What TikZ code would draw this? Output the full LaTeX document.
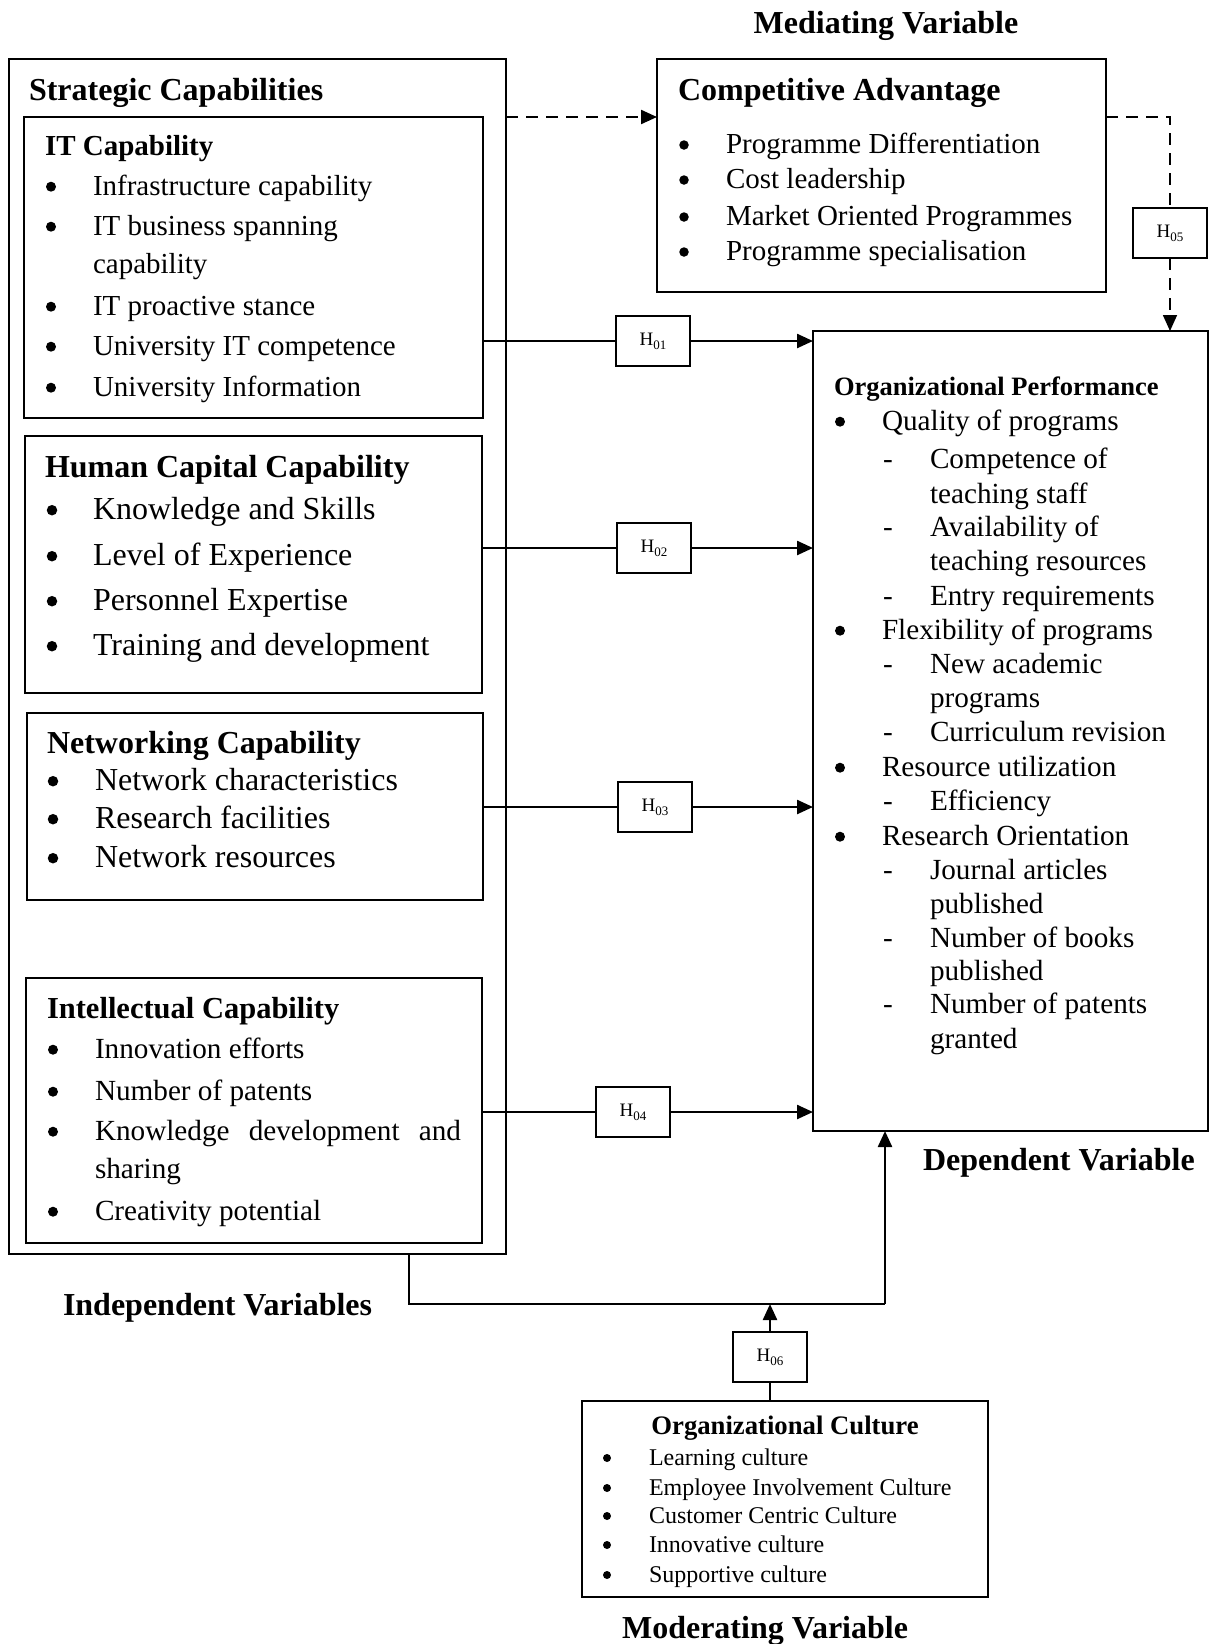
\documentclass[tikz,border=0pt]{standalone}
\usepackage{fontspec}
\setmainfont{Liberation Serif}
\usetikzlibrary{arrows.meta}
\def\bsz{10pt}\def\boff{8.3}
\newcommand{\bitm}[5]{\node[bdot, minimum size=\bsz] (#1b) at (#2,#4-\boff) {};\node[txt] (#1) at (#3,#4) {#5};}
\newcommand{\ditm}[5]{\node[bul] (#1b) at (#2,#4) {-};\node[txt] (#1) at (#3,#4) {#5};}
\newcommand{\hlab}[1]{H\raisebox{-4pt}{\fontsize{13}{13}\selectfont #1}}
\begin{document}
\begin{tikzpicture}[x=1pt,y=-1pt,
  box/.style={draw, line width=1.6pt, inner sep=0pt, outer sep=0pt, anchor=north west},
  hbox/.style={draw, line width=1.8pt, minimum width=74pt, minimum height=50pt, inner sep=0pt, outer sep=0pt, font=\fontsize{19}{22}\selectfont},
  txt/.style={inner sep=0pt, outer sep=0pt, anchor=base west},
  bul/.style={inner sep=0pt, outer sep=0pt, anchor=base},
  bdot/.style={circle, fill, draw=none, inner sep=0pt, outer sep=0pt},
  conn/.style={line width=2.4pt},
  arr/.style={line width=2.4pt, -{Triangle[length=16pt,width=14pt]}},
  dashln/.style={line width=2.2pt, dash pattern=on 12pt off 8pt},
  dashthin/.style={line width=1.6pt, dash pattern=on 12pt off 8pt},
  ttl/.style={inner sep=0pt, outer sep=0pt, font=\fontsize{32}{38}\selectfont\bfseries}
]
\useasboundingbox (0,0) rectangle (1211,1644);

% ---------- boxes ----------
\node[box, line width=2pt, minimum width=497pt, minimum height=1195pt] (sc) at (9,59) {};
\node[box, minimum width=459pt, minimum height=301pt] (it) at (24,117) {};
\node[box, minimum width=457pt, minimum height=257pt] (hc) at (25,436) {};
\node[box, minimum width=456pt, minimum height=187pt] (nc) at (27,713) {};
\node[box, minimum width=456pt, minimum height=265pt] (ic) at (26,978) {};
\node[box, minimum width=449pt, minimum height=233pt] (ca) at (657,59) {};
\node[box, minimum width=395pt, minimum height=800pt] (op) at (813,331) {};
\node[box, minimum width=406pt, minimum height=196pt] (oc) at (582,1401) {};

% ---------- hypothesis boxes ----------
\node[hbox] (h1) at (653,341) {\hlab{01}};
\node[hbox] (h2) at (654,548) {\hlab{02}};
\node[hbox] (h3) at (655,807) {\hlab{03}};
\node[hbox] (h4) at (633,1112) {\hlab{04}};
\node[hbox] (h5) at (1170,233) {\hlab{05}};
\node[hbox] (h6) at (770,1357) {\hlab{06}};

% ---------- captions ----------
\node[ttl, anchor=base] (medv) at (886,33) {Mediating Variable};
\node[ttl, anchor=base west] (scT) at (29,100) {Strategic Capabilities};
\node[ttl, anchor=base west] (indv) at (63,1315) {Independent Variables};
\node[ttl, anchor=base west] (depv) at (923,1170) {Dependent Variable};
\node[ttl, anchor=base] (modv) at (765,1638) {Moderating Variable};

% ---------- IT capability ----------
\begin{scope}[font=\fontsize{29}{35}\selectfont]
\def\bsz{10pt}\def\boff{8.3}
\node[txt, font=\fontsize{29}{35}\selectfont\bfseries] (itT) at (45,155) {IT Capability};
\bitm{it1}{51}{93}{195}{Infrastructure capability}
\bitm{it2}{51}{93}{235}{IT business spanning}
\node[txt] (it2c) at (93,273) {capability};
\bitm{it3}{51}{93}{315}{IT proactive stance}
\bitm{it4}{51}{93}{355}{University IT competence}
\bitm{it5}{51}{93}{396}{University Information}
\end{scope}

% ---------- Human capital ----------
\begin{scope}[font=\fontsize{32}{38}\selectfont]
\def\bsz{10.5pt}\def\boff{8.8}
\node[txt, font=\fontsize{32}{38}\selectfont\bfseries] (hcT) at (45,477) {Human Capital Capability};
\bitm{hc1}{52}{93}{519}{Knowledge and Skills}
\bitm{hc2}{52}{93}{565}{Level of Experience}
\bitm{hc3}{52}{93}{610}{Personnel Expertise}
\bitm{hc4}{52}{93}{655}{Training and development}
\end{scope}

% ---------- Networking ----------
\begin{scope}[font=\fontsize{32}{38}\selectfont]
\def\bsz{10.5pt}\def\boff{8.8}
\node[txt, font=\fontsize{32}{38}\selectfont\bfseries] (ncT) at (47,753) {Networking Capability};
\bitm{nc1}{53}{95}{790}{Network characteristics}
\bitm{nc2}{53}{95}{828}{Research facilities}
\bitm{nc3}{53}{95}{867}{Network resources}
\end{scope}

% ---------- Intellectual ----------
\begin{scope}[font=\fontsize{29.2}{35}\selectfont]
\def\bsz{10pt}\def\boff{8.3}
\node[txt, font=\fontsize{30.5}{36}\selectfont\bfseries] (icT) at (47,1018) {Intellectual Capability};
\bitm{ic1}{53}{95}{1058}{Innovation efforts}
\bitm{ic2}{53}{95}{1100}{Number of patents}
\bitm{ic3}{53}{95}{1140}{\makebox[366pt][s]{Knowledge development and}}
\node[txt] (ic3c) at (95,1178) {sharing};
\bitm{ic4}{53}{95}{1220}{Creativity potential}
\end{scope}

% ---------- Competitive advantage ----------
\begin{scope}[font=\fontsize{29}{35}\selectfont]
\def\bsz{9.5pt}\def\boff{8}
\node[ttl, anchor=base west] (caT) at (678,100) {Competitive Advantage};
\bitm{ca1}{684}{726}{153}{Programme Differentiation}
\bitm{ca2}{684}{726}{188}{Cost leadership}
\bitm{ca3}{684}{726}{225}{Market Oriented Programmes}
\bitm{ca4}{684}{726}{260}{Programme specialisation}
\end{scope}

% ---------- Organizational performance ----------
\begin{scope}[font=\fontsize{29.2}{35}\selectfont]
\def\bsz{10pt}\def\boff{8.3}
\node[txt, font=\fontsize{26.5}{32}\selectfont\bfseries] (opT) at (834,395) {Organizational Performance};
\bitm{op1}{840}{882}{430}{Quality of programs}
\ditm{op2}{888}{930}{468}{Competence of}
\node[txt] (op2c) at (930,503) {teaching staff};
\ditm{op3}{888}{930}{536}{Availability of}
\node[txt] (op3c) at (930,570) {teaching resources};
\ditm{op4}{888}{930}{605}{Entry requirements}
\bitm{op5}{840}{882}{639}{Flexibility of programs}
\ditm{op6}{888}{930}{673}{New academic}
\node[txt] (op6c) at (930,707) {programs};
\ditm{op7}{888}{930}{741}{Curriculum revision}
\bitm{op8}{840}{882}{776}{Resource utilization}
\ditm{op9}{888}{930}{810}{Efficiency}
\bitm{op10}{840}{882}{845}{Research Orientation}
\ditm{op11}{888}{930}{879}{Journal articles}
\node[txt] (op11c) at (930,913) {published};
\ditm{op12}{888}{930}{947}{Number of books}
\node[txt] (op12c) at (930,980) {published};
\ditm{op13}{888}{930}{1013}{Number of patents}
\node[txt] (op13c) at (930,1048) {granted};
\end{scope}

% ---------- Organizational culture ----------
\begin{scope}[font=\fontsize{24}{29}\selectfont]
\def\bsz{8pt}\def\boff{7}
\node[inner sep=0pt, anchor=base, font=\fontsize{26.7}{32}\selectfont\bfseries] (ocT) at (785,1434) {Organizational Culture};
\bitm{oc1}{607}{649}{1465}{Learning culture}
\bitm{oc2}{607}{649}{1495}{Employee Involvement Culture}
\bitm{oc3}{607}{649}{1523}{Customer Centric Culture}
\bitm{oc4}{607}{649}{1552}{Innovative culture}
\bitm{oc5}{607}{649}{1582}{Supportive culture}
\end{scope}

% ---------- connectors ----------
\draw[conn] (h1.west -| it.east) -- (h1.west);
\draw[arr] (h1.east) -- (h1.east -| op.west);
\draw[conn] (h2.west -| hc.east) -- (h2.west);
\draw[arr] (h2.east) -- (h2.east -| op.west);
\draw[conn] (h3.west -| nc.east) -- (h3.west);
\draw[arr] (h3.east) -- (h3.east -| op.west);
\draw[conn] (h4.west -| ic.east) -- (h4.west);
\draw[arr] (h4.east) -- (h4.east -| op.west);

\coordinate (d1) at (506,117);
\draw[dashln, -{Triangle[length=16pt,width=14pt]}] (d1) -- (d1 -| ca.west);
\draw[dashthin] (d1 -| ca.east) -| (h5.north);
\draw[dashthin, -{Triangle[length=16pt,width=14pt]}] (h5.south) -- (h5.south |- op.north);

\coordinate (b1) at (409,1304);
\coordinate (b2) at (885,1304);
\draw[conn] (b1 |- sc.south) -- (b1) -- (b2);
\draw[arr] (b2) -- (b2 |- op.south);
\draw[conn] (h6.south |- oc.north) -- (h6.south);
\draw[arr] (h6.north) -- (h6.north |- b1);
\end{tikzpicture}
\end{document}
